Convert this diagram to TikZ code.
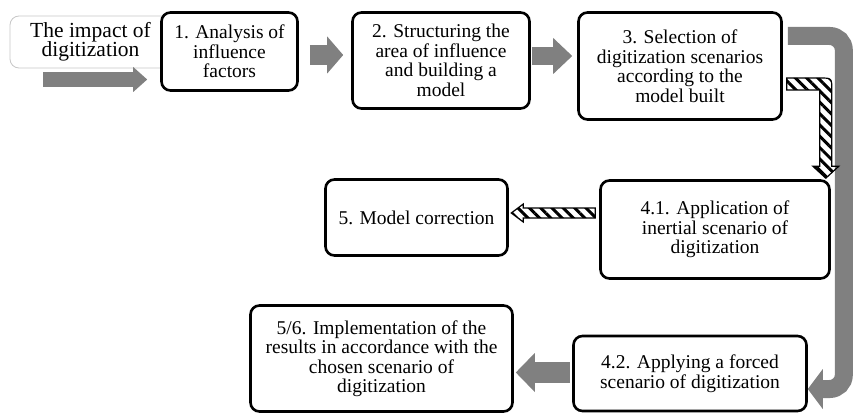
\documentclass[tikz,border=0pt]{standalone}
\usepackage{fontspec}
\setmainfont{Liberation Serif}
\usetikzlibrary{positioning, arrows.meta, calc, patterns.meta}

\begin{document}
\begin{tikzpicture}[
    x=1pt, y=-1pt,
    stp/.style={
      draw, line width=2.6pt, rounded corners=9pt, fill=white,
      align=center, inner sep=2pt,
      font=\fontsize{19.5}{19.5}\selectfont},
    src/.style={stp, draw=black!22, line width=0.8pt,
      font=\fontsize{21.5}{19.5}\selectfont},
    garr/.style n args={3}{draw=black!50, line width=#1,
      -{Triangle[length=#2, width=#3, line width=0pt]}},
    hatch/.style={draw, line width=1.2pt,
      pattern={Lines[angle=-45, distance=8pt, line width=3pt]}},
]

\useasboundingbox (0,0) rectangle (853,414);

% --- Top row ---
\node[src, minimum width=161pt, minimum height=52pt]
  (impact) at (90.5,42) {The impact of\\digitization};
\node[stp, minimum width=136pt, minimum height=78pt]
  (analysis) at (229.5,51.5) {1. Analysis of\\influence\\factors};
\node[stp, minimum width=177pt, minimum height=96pt]
  (structure) at (441,60.5)
  {2. Structuring the\\area of influence\\and building a\\model};
\node[stp, minimum width=203pt, minimum height=107pt]
  (selection) at (680,66)
  {3. Selection of\\digitization scenarios\\according to the\\model built};

% --- Middle row ---
\node[stp, minimum width=229pt, minimum height=98pt]
  (inertial) at (715,229.5)
  {4.1. Application of\\inertial scenario of\\digitization};
\node[stp, minimum width=182pt, minimum height=76pt]
  (correct) at (416.5,217.5) {5. Model correction};

% --- Bottom row ---
\node[stp, minimum width=233pt, minimum height=75pt]
  (forced) at (690,373.5)
  {4.2. Applying a forced\\scenario of digitization};
\node[stp, minimum width=262pt, minimum height=106pt]
  (implement) at (381.5,358.5)
  {5/6. Implementation of the\\results in accordance with the\\chosen scenario of\\digitization};

% Gray block arrows
\coordinate (feed) at (43,79.5);
\draw[garr={15pt}{14pt}{25pt}]
  (feed) -- ([shift={(-13,28)}]analysis.west);
\draw[garr={20pt}{16pt}{37pt}]
  ([shift={(11,3.5)}]analysis.east) -- ([shift={(-8,-5.5)}]structure.west);
\draw[garr={18pt}{19pt}{36pt}]
  ([shift={(1,-4.5)}]structure.east) -- ([shift={(-5,-10)}]selection.west);
\draw[garr={18pt}{15pt}{40pt}, rounded corners=14pt]
  ([shift={(5,-30)}]selection.east) -- ++(56,0)
  |- ([shift={(0,15.5)}]forced.east);
\draw[garr={21pt}{19pt}{39pt}]
  ([shift={(-2,-1)}]forced.west) -- ([shift={(2,14)}]implement.east);

% Hatched bent arrow: selection -> inertial
\coordinate (hs) at ([shift={(4,18)}]selection.east);
\coordinate (ht) at ($(inertial.north -| inertial.east)+(-5,-1)$);
\coordinate (hc) at (hs -| ht);
\draw[hatch]
  ($(hs)+(0,-6)$) -- ($(hc)+(-6,-6)$)
  .. controls ($(hc)+(6,-6)$) .. ($(hc)+(6,6)$)
  -- ($(ht)+(6,-12)$) -- ($(ht)+(13,-12)$) -- (ht)
  -- ($(ht)+(-13,-12)$) -- ($(ht)+(-6,-12)$)
  -- ($(hc)+(-6,6)$) -- ($(hs)+(0,6)$) -- cycle;

% Hatched arrow: inertial -> correction
\coordinate (ls) at ([shift={(-4,-16.5)}]inertial.west);
\coordinate (lt) at ([shift={(2.5,-4.5)}]correct.east);
\draw[hatch]
  ($(ls)+(0,-5)$) -- ($(lt)+(12,-5)$) -- ($(lt)+(12,-9)$) -- (lt)
  -- ($(lt)+(12,9)$) -- ($(lt)+(12,5)$) -- ($(ls)+(0,5)$) -- cycle;

\end{tikzpicture}
\end{document}
